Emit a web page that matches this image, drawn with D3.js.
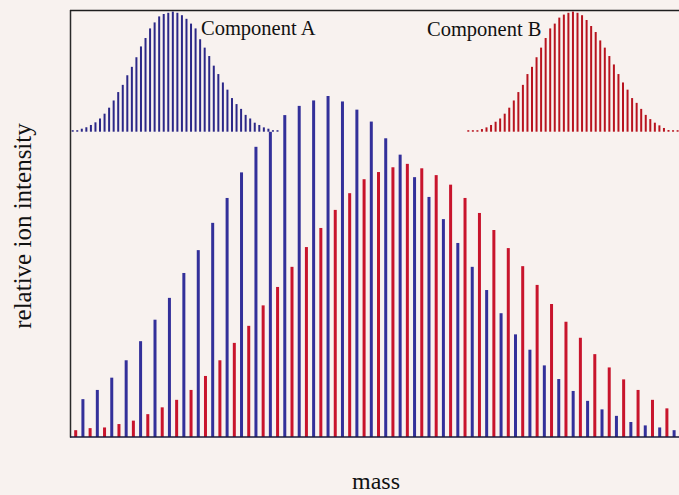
<!DOCTYPE html>
<html><head><meta charset="utf-8">
<script src="https://cdn.jsdelivr.net/npm/d3@7"></script>
<style>html,body{margin:0;padding:0;background:#f8f2ef;} svg{display:block}</style>
</head><body>
<svg id="c" width="679" height="495"></svg>
<script>
// ---- data ----
const xLabel = "mass";
const yLabel = "relative ion intensity";
const componentNames = ["Component A", "Component B"];

// main spectrum (relative intensity, blue peak = 100), one value per mass step
const mainBlue = [11.1,13.8,17.4,22.5,28.1,34.4,40.8,48.1,54.8,62.8,70.1,77.6,85.1,89.5,94.4,97.1,98.7,100,98.4,96.0,92.5,87.6,82.8,76.2,70.4,63.9,56.9,49.9,43.1,36.3,30.1,25.6,21.0,17.0,13.5,10.6,8.1,6.2,4.4,3.4,2.8,2.0];
const mainRed = [2.0,2.6,2.8,3.8,4.8,6.7,8.7,10.9,13.8,17.9,22.5,27.6,32.6,38.6,44.0,49.9,55.7,61.3,66.6,71.5,75.6,77.7,79.1,80.1,78.8,76.8,74.0,70.1,65.7,60.7,55.4,50.1,44.6,39.0,33.8,29.1,24.3,20.4,16.9,13.8,10.9,8.4];

// inset spectra (normalised to 1)
const compA = [0.006,0.012,0.025,0.037,0.056,0.078,0.11,0.15,0.20,0.26,0.33,0.39,0.47,0.54,0.62,0.71,0.78,0.86,0.91,0.96,0.98,0.99,1.0,0.99,0.97,0.94,0.90,0.86,0.77,0.70,0.63,0.55,0.48,0.41,0.35,0.28,0.23,0.19,0.14,0.11,0.075,0.056,0.036,0.025,0.012,0.006];
const compB = [0.004,0.006,0.010,0.022,0.036,0.056,0.083,0.11,0.15,0.20,0.26,0.33,0.39,0.48,0.54,0.62,0.70,0.78,0.86,0.90,0.95,0.975,0.99,1.0,0.99,0.97,0.93,0.88,0.83,0.76,0.70,0.63,0.56,0.48,0.41,0.35,0.28,0.24,0.19,0.14,0.105,0.075,0.053,0.031,0.014,0.006,0.004];

// ---- drawing ----
const svg = d3.select("#c");
const blue = "#33309a", red = "#c8142c";
const blueIn = "#2c2888", redIn = "#b8141f";

const x = d3.scaleLinear().domain([0, mainRed.length - 1]).range([75.7, 666.9]);
const y = d3.scaleLinear().domain([0, 100]).range([437, 96]);

const xA = d3.scaleLinear().domain([0, compA.length - 1]).range([72.7, 277.5]);
const xB = d3.scaleLinear().domain([0, compB.length - 1]).range([468.3, 677.6]);
const yIn = d3.scaleLinear().domain([0, 1]).range([131.7, 11.6]);

// insets
function inset(data, xs, color) {
  svg.append("g").selectAll("rect").data(data).join("rect")
    .attr("x", (d, i) => xs(i) - 1)
    .attr("width", 2)
    .attr("y", d => Math.min(yIn(d), yIn(0) - 1.5))
    .attr("height", d => Math.max(yIn(0) - yIn(d), 1.5))
    .attr("fill", color);
}
inset(compA, xA, blueIn);
inset(compB, xB, redIn);

// main bars
svg.append("g").selectAll("rect").data(mainRed).join("rect")
  .attr("x", (d, i) => x(i) - 1.5).attr("width", 3)
  .attr("y", d => y(d)).attr("height", d => y(0) - y(d))
  .attr("fill", red);
svg.append("g").selectAll("rect").data(mainBlue).join("rect")
  .attr("x", (d, i) => x(i + 0.5) - 1.5).attr("width", 3)
  .attr("y", d => y(d)).attr("height", d => y(0) - y(d))
  .attr("fill", blue);

// frame
svg.append("line").attr("x1", 70.5).attr("x2", 70.5).attr("y1", 10).attr("y2", 437.5)
  .attr("stroke", "#2a2a2a").attr("stroke-width", 1.5);
svg.append("line").attr("x1", 70).attr("x2", 679).attr("y1", 10.5).attr("y2", 10.5)
  .attr("stroke", "#1e1e1e").attr("stroke-width", 1.5);
svg.append("line").attr("x1", 70).attr("x2", 679).attr("y1", 437).attr("y2", 437)
  .attr("stroke", "#1a1a3a").attr("stroke-width", 1.6);

// labels
const font = "'Liberation Serif', 'Times New Roman', serif";
svg.append("text").attr("x", 201).attr("y", 35).text(componentNames[0])
  .attr("font-family", font).attr("font-size", 20.5).attr("fill", "#111");
svg.append("text").attr("x", 427).attr("y", 35.5).text(componentNames[1])
  .attr("font-family", font).attr("font-size", 20.5).attr("fill", "#111");
svg.append("text").attr("x", 376).attr("y", 489).attr("text-anchor", "middle").text(xLabel)
  .attr("font-family", font).attr("font-size", 24).attr("fill", "#111");
svg.append("text").attr("transform", "translate(31,226) rotate(-90)")
  .attr("text-anchor", "middle").text(yLabel)
  .attr("font-family", font).attr("font-size", 25).attr("fill", "#111");
</script>
</body></html>
